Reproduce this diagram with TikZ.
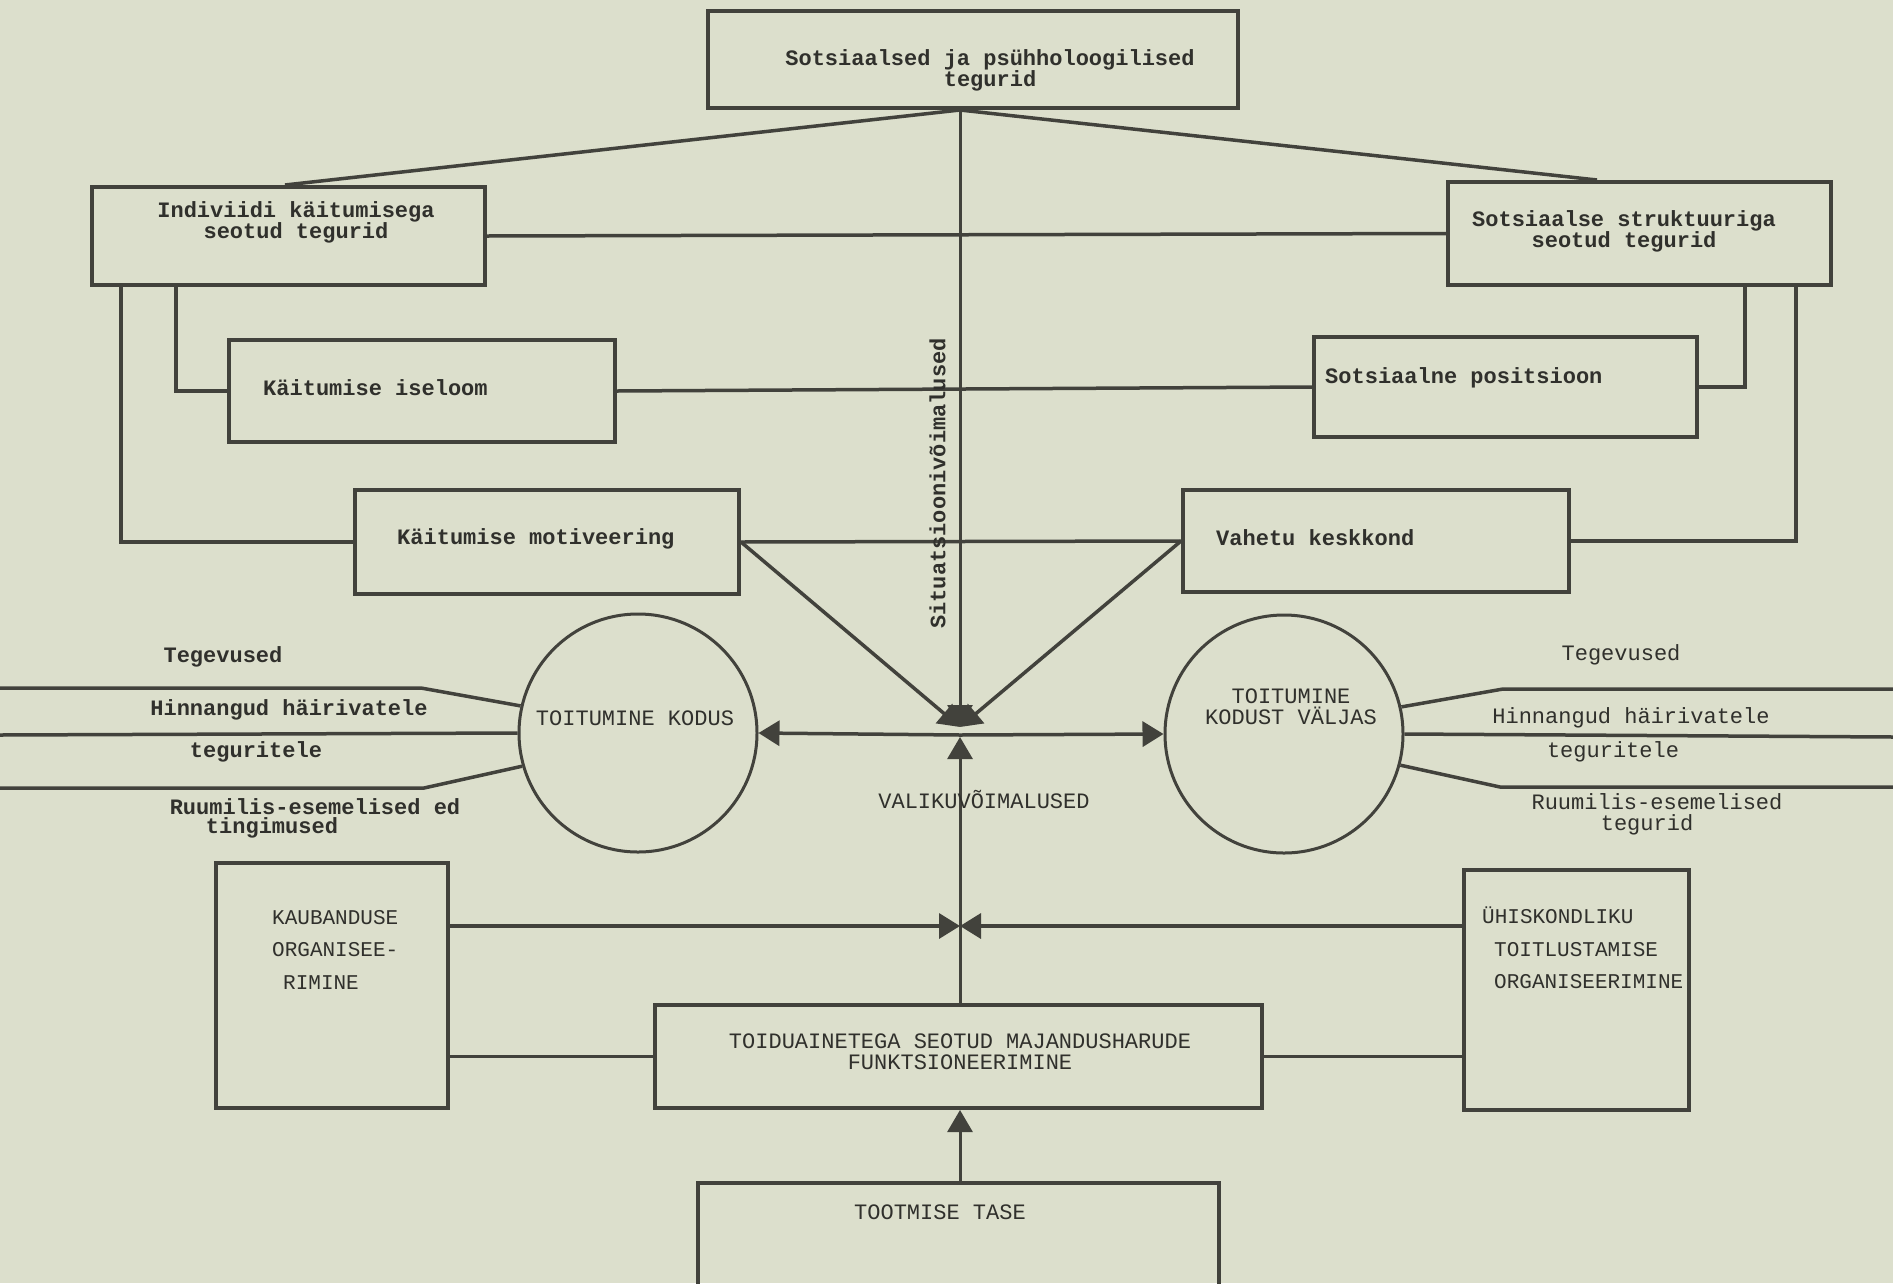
\documentclass[tikz,border=0pt]{standalone}
\usepackage{fontspec}
\setmonofont{Liberation Mono}
\usetikzlibrary{arrows.meta}
\definecolor{paper}{RGB}{220,223,204}
\definecolor{ink}{RGB}{66,66,60}
\definecolor{tink}{RGB}{48,48,44}
\begin{document}
\begin{tikzpicture}[x=1pt,y=-1pt,
  box/.style={draw=ink, line width=4pt, rectangle, inner sep=0pt},
  ring/.style={draw=ink, line width=3pt, circle, inner sep=0pt, minimum size=238},
  conn/.style={draw=ink, line width=3.5pt},
  thin/.style={draw=ink, line width=3pt},
  arr/.style={conn, -{Triangle[width=25pt,length=21pt]}},
  tarr/.style={thin, -{Triangle[width=25pt,length=22pt]}},
  lbl/.style={text=tink, font=\fontsize{22}{21}\selectfont\ttfamily\bfseries, inner sep=0pt},
  lblr/.style={text=tink, font=\fontsize{22}{21}\selectfont\ttfamily, inner sep=0pt},
  caps/.style={text=tink, font=\fontsize{21}{32.5}\selectfont\ttfamily, inner sep=0pt},
]
\clip (0,0) rectangle (1893,1283);
\fill[paper] (0,0) rectangle (1893,1283);

% boxes
\node[box, minimum width=530, minimum height=97] (top) at (973,59.5) {};
\node[box, minimum width=393, minimum height=98] (indiv) at (288.5,236) {};
\node[box, minimum width=383, minimum height=103] (sotstr) at (1639.5,233.5) {};
\node[box, minimum width=386, minimum height=102] (iseloom) at (422,391) {};
\node[box, minimum width=383, minimum height=100] (posits) at (1505.5,387) {};
\node[box, minimum width=384, minimum height=104] (motiv) at (547,542) {};
\node[box, minimum width=386, minimum height=102] (vahetu) at (1376,541) {};
\node[ring] (kodus) at (638,733) {};
\node[ring] (valjas) at (1284,734) {};
\node[box, minimum width=232, minimum height=245] (kaub) at (332,985.5) {};
\node[box, minimum width=225, minimum height=240] (uhis) at (1576.5,990) {};
\node[box, minimum width=607, minimum height=103] (funk) at (958.5,1056.5) {};
\node[box, minimum width=521, minimum height=130] (toot) at (958.5,1248) {};

% coordinates
\coordinate (hub) at (960,735);
\coordinate (hubtop) at (960,727);
\coordinate (hubbot) at (960,737);
\coordinate (cross) at (960,926);
\coordinate (topfoot) at (hub |- top.south);
\coordinate (l1) at (0,688);
\coordinate (l2) at (0,735);
\coordinate (l3) at (0,788);
\coordinate (r1) at (1893,689);
\coordinate (r2) at (1893,737);
\coordinate (r3) at (1893,787);

% connectors
\draw[conn] (topfoot) -- (285,0 |- indiv.north);
\draw[conn] (topfoot) -- (1597,0 |- sotstr.north);
\draw[tarr] (topfoot) -- (hubtop);
\draw[tarr] (hub |- funk.north) -- (hubbot);
\draw[conn] (indiv.east) -- (sotstr.west);
\draw[conn] (iseloom.east) -- (posits.west);
\draw[conn] (motiv.east) -- (vahetu.west);
\draw[conn] (iseloom.west) -| (176,0 |- indiv.south);
\draw[conn] (motiv.west) -| (121,0 |- indiv.south);
\draw[conn] (posits.east) -| (1745,0 |- sotstr.south);
\draw[conn] (vahetu.east) -| (1796,0 |- sotstr.south);
\draw[arr] (motiv.east) -- (hubtop);
\draw[arr] (vahetu.west) -- (hubtop);
\draw[arr] (hub) -- (kodus.east);
\draw[arr] (hub) -- (valjas.west);
\draw[arr] (kaub.east |- cross) -- (cross);
\draw[arr] (uhis.west |- cross) -- (cross);
\draw[conn] (funk.west) -- (funk.west -| kaub.east);
\draw[conn] (funk.east) -- (funk.east -| uhis.west);
\draw[tarr] (hub |- toot.north) -- (hub |- funk.south);

% side lines
\draw[conn] (kodus.167) -- (421,688) -- (l1);
\draw[conn] (kodus.west) -- (l2);
\draw[conn] (kodus.196) -- (424,788) -- (l3);
\draw[conn] (valjas.13) -- (1503,689) -- (r1);
\draw[conn] (valjas.east) -- (r2);
\draw[conn] (valjas.-15) -- (1500,787) -- (r3);

% texts
\node[lbl, align=center] (t-top) at (990,70) {Sotsiaalsed ja psühholoogilised\\tegurid};
\node[lbl, align=center] (t-indiv) at (296,222) {Indiviidi käitumisega\\seotud tegurid};
\node[lbl, align=center] (t-sotstr) at (1624,231) {Sotsiaalse struktuuriga\\seotud tegurid};
\node[lbl, anchor=west] (t-iseloom) at (263,388) {Käitumise iseloom};
\node[lbl, anchor=west] (t-posits) at (1325,378) {Sotsiaalne positsioon};
\node[lbl, anchor=west] (t-motiv) at (397,539) {Käitumise motiveering};
\node[lbl, anchor=west] (t-vahetu) at (1216,538) {Vahetu keskkond};
\node[lbl, rotate=90] (t-sit) at (937.5,483.5) {Situatsioonivõimalused};
\node[lblr] (t-kodus) at (635,718) {TOITUMINE KODUS};
\node[lblr, align=center] (t-valjas) at (1291,707) {TOITUMINE\\KODUST VÄLJAS};
\node[lblr] (t-valik) at (984,800) {VALIKUVÕIMALUSED};

\node[lbl] (t-teg1) at (223,657) {Tegevused};
\node[lbl] (t-hin1) at (289,710) {Hinnangud häirivatele};
\node[lbl] (t-tgr1) at (256,752) {teguritele};
\node[lbl] (t-ruu1) at (315,807) {Ruumilis-esemelised ed};
\node[lbl] (t-ting1) at (272,828) {tingimused};

\node[lblr] (t-teg2) at (1621,655) {Tegevused};
\node[lblr] (t-hin2) at (1631,718) {Hinnangud häirivatele};
\node[lblr] (t-tgr2) at (1613,752) {teguritele};
\node[lblr] (t-ruu2) at (1657,802) {Ruumilis-esemelised};
\node[lblr] (t-tgd2) at (1647,825) {tegurid};

\node[caps, align=left, anchor=north west] (t-kaub) at (272,910) {KAUBANDUSE\\ORGANISEE-\\\hspace*{11pt}RIMINE};
\node[caps, align=left, anchor=north west] (t-uhis) at (1482,907) {ÜHISKONDLIKU\\\hspace*{12pt}TOITLUSTAMISE\\\hspace*{12pt}ORGANISEERIMINE};
\node[lblr, align=center] (t-funk) at (960,1052) {TOIDUAINETEGA SEOTUD MAJANDUSHARUDE\\FUNKTSIONEERIMINE};
\node[lblr] (t-toot) at (940,1212) {TOOTMISE TASE};
\end{tikzpicture}
\end{document}
